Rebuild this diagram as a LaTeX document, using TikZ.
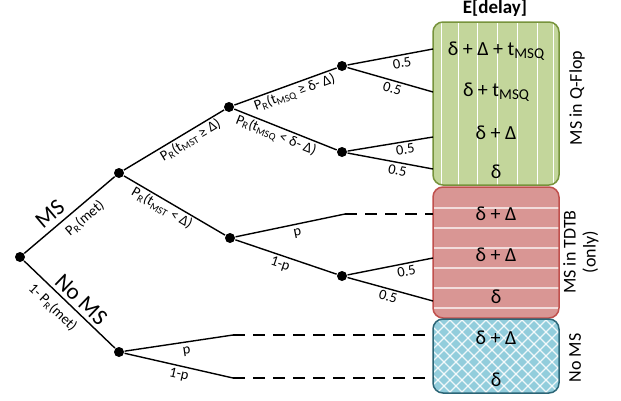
\documentclass[tikz,border=0pt]{standalone}
\usepackage{fontspec}
\setmainfont{Carlito}
\definecolor{qgreen}{HTML}{C3D69B}
\definecolor{qgreenb}{HTML}{77933C}
\definecolor{tred}{HTML}{D99694}
\definecolor{tredb}{HTML}{C0504D}
\definecolor{tredl}{HTML}{F2DCDB}
\definecolor{nblue}{HTML}{92CDDC}
\definecolor{nblueb}{HTML}{2C6677}
% lowered subscript used inside the result boxes
\newcommand{\msub}[1]{\raisebox{-0.35ex}{\fontsize{15}{15}\selectfont #1}}
\begin{document}
\begin{tikzpicture}[x=1pt, y=-1pt, line width=1.4pt,
  dot/.style={circle, fill=black, inner sep=0pt, minimum size=10pt},
  lbl/.style={font=\fontsize{14.5}{14.5}\selectfont, sloped, inner sep=1.5pt},
  bigl/.style={font=\fontsize{23}{23}\selectfont, sloped, inner sep=1.5pt},
  res/.style={font=\fontsize{20}{20}\selectfont, inner sep=0pt},
  side/.style={font=\fontsize{18}{20}\selectfont, rotate=90, align=center, inner sep=0pt},
  dashline/.style={dash pattern=on 12pt off 8pt},
  boxframe/.style={draw, rounded corners=10pt, line width=1.5pt, inner sep=0pt}]
\useasboundingbox (0,0) rectangle (621,400);

% ---------- result boxes: patterned fills ----------
\begin{scope}
  \clip[rounded corners=10pt] (433,22) rectangle (559,185);
  \fill[qgreen] (433,22) rectangle (559,185);
  \foreach \x in {441,458,477,497,517,537,553}
    \draw[white, line width=1pt] (\x,22) -- (\x,185);
\end{scope}
\begin{scope}
  \clip[rounded corners=10pt] (433,187) rectangle (559,318);
  \fill[tred] (433,187) rectangle (559,318);
  \foreach \y in {208,228,248,268,288,308}
    \draw[tredl, line width=1.6pt] (433,\y) -- (559,\y);
\end{scope}
\begin{scope}
  \clip[rounded corners=10pt] (433,319) rectangle (559,393);
  \fill[nblue] (433,319) rectangle (559,393);
  \foreach \c in {0,12,...,228}
    {\draw[white, line width=1.1pt, opacity=0.85] (433+\c-80,319) -- ++(80,80);
     \draw[white, line width=1.1pt, opacity=0.85] (433+\c-80,393) -- ++(80,-80);}
\end{scope}
\node[boxframe, draw=qgreenb, minimum width=126pt, minimum height=163pt] (qf) at (496,103.5) {};
\node[boxframe, draw=tredb, minimum width=126pt, minimum height=131pt] (td) at (496,252.5) {};
\node[boxframe, draw=nblueb, minimum width=126pt, minimum height=74pt] (nb) at (496,356) {};

% ---------- box contents ----------
\node[res] (g1) at (496,51) {δ + Δ + t\msub{MSQ}};
\node[res] (g2) at (496,92) {δ + t\msub{MSQ}};
\node[res] (g3) at (496,133) {δ + Δ};
\node[res] (g4) at (496,172) {δ};
\node[res] (r1) at (496,214) {δ + Δ};
\node[res] (r2) at (496,255) {δ + Δ};
\node[res] (r3) at (496,297) {δ};
\node[res] (n1) at (496,338) {δ + Δ};
\node[res] (n2) at (496,380) {δ};

\node[font=\bfseries\fontsize{19}{19}\selectfont, inner sep=0pt] (hd) at (495,8) {E[delay]};
\node[side] (s1) at (577,98) {MS in Q-Flop};
\node[side] (s2) at (581,252) {MS in TDTB\\(only)};
\node[side] (s3) at (575,358) {No MS};

% ---------- tree ----------
\node[dot] (r) at (20,257) {};
\node[dot] (ms) at (119,173) {};
\node[dot] (nm) at (119,352) {};
\node[dot] (a) at (229,107) {};
\node[dot] (b) at (230,238) {};
\node[dot] (a1) at (342,66) {};
\node[dot] (a2) at (342,152) {};
\node[dot] (b2) at (342,276) {};

\coordinate (ea1u) at (433,49);
\coordinate (ea1d) at (433,92);
\coordinate (ea2u) at (433,137);
\coordinate (ea2d) at (433,169);
\coordinate (bp) at (345,214);
\coordinate (ebp) at (433,214);
\coordinate (eb2u) at (433,258);
\coordinate (eb2d) at (433,301);
\coordinate (nmp) at (233,335);
\coordinate (enmp) at (433,335);
\coordinate (nmq) at (233,378);
\coordinate (enmq) at (433,378);

\draw (r) -- node[bigl, pos=.38, above=4pt] {MS}
             node[lbl, pos=.58, below=4pt] {P\textsubscript{R}(met)} (ms);
\draw (r) -- node[bigl, pos=.54, above=2pt] {No MS}
             node[lbl, pos=.42, below=5pt] {1- P\textsubscript{R}(met)} (nm);

\draw (ms) -- node[lbl, pos=.62, below] {P\textsubscript{R}(t\textsubscript{MST} ≥ Δ)} (a);
\draw (ms) -- node[lbl, pos=.42, below] {P\textsubscript{R}(t\textsubscript{MST} < Δ)} (b);

\draw (a) -- node[lbl, pos=.56, below] {P\textsubscript{R}(t\textsubscript{MSQ} ≥ δ- Δ)} (a1);
\draw (a) -- node[lbl, pos=.44, below] {P\textsubscript{R}(t\textsubscript{MSQ} < δ- Δ)} (a2);

\draw (a1) -- node[lbl, pos=.62, below=1pt] {0.5} (ea1u);
\draw (a1) -- node[lbl, pos=.55, below=1pt] {0.5} (ea1d);
\draw (a2) -- node[lbl, pos=.66, below=1pt] {0.5} (ea2u);
\draw (a2) -- node[lbl, pos=.6, below=1pt] {0.5} (ea2d);

\draw (b) -- node[lbl, pos=.55, below=2pt] {p} (bp);
\draw[dashline] (bp) -- (ebp);
\draw (b) -- node[lbl, pos=.47, below=1pt] {1-p} (b2);
\draw (b2) -- node[lbl, pos=.67, below=1pt] {0.5} (eb2u);
\draw (b2) -- node[lbl, pos=.5, below=1pt] {0.5} (eb2d);

\draw (nm) -- node[lbl, pos=.56, below=3pt] {p} (nmp);
\draw[dashline] (nmp) -- (enmp);
\draw (nm) -- node[lbl, pos=.52, below=1pt] {1-p} (nmq);
\draw[dashline] (nmq) -- (enmq);
\end{tikzpicture}
\end{document}
